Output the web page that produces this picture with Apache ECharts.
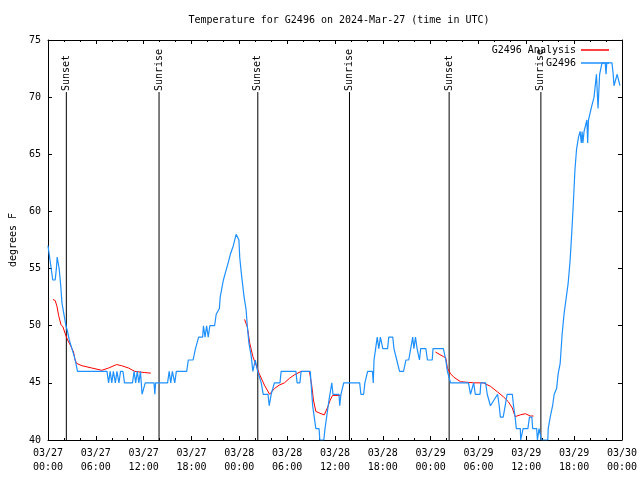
<!DOCTYPE html>
<html><head><meta charset="utf-8">
<script src="https://cdn.jsdelivr.net/npm/echarts@6/dist/echarts.min.js"></script>
<style>html,body{margin:0;padding:0;background:#fff}#c{width:640px;height:480px}</style>
</head><body><div id="c"></div>
<script>
// Hours since 2024-03-27 00:00 UTC
var xTickLabels = ['03/27\n00:00','03/27\n06:00','03/27\n12:00','03/27\n18:00','03/28\n00:00','03/28\n06:00','03/28\n12:00','03/28\n18:00','03/29\n00:00','03/29\n06:00','03/29\n12:00','03/29\n18:00','03/30\n00:00'];

var obsTimes = [0,0.2,0.4,0.6,0.9,1.05,1.15,1.3,1.4,1.6,1.75,2.0,2.25,2.45,2.65,3.0,3.3,3.5,3.7,7.4,7.6,7.8,8.0,8.2,8.45,8.65,8.9,9.1,9.4,9.6,10.6,10.8,11.0,11.2,11.4,11.6,11.8,12.0,12.2,13.3,13.4,13.5,15.0,15.2,15.4,15.6,15.9,16.1,17.4,17.6,18.2,18.5,18.9,19.4,19.5,19.7,19.9,20.1,20.3,20.9,21.1,21.5,21.6,22.0,22.4,22.6,22.9,23.25,23.6,23.85,23.95,24.05,24.25,24.45,24.6,24.85,25.0,25.2,25.5,25.7,26.0,26.1,26.3,26.75,27.0,27.6,27.75,28.0,28.4,29.1,29.25,31.1,31.25,31.6,31.75,32.9,33.0,33.2,33.6,34.0,34.1,34.6,34.75,35.25,35.6,35.75,36.5,36.6,36.75,37.1,39.1,39.25,39.6,39.75,40.1,40.7,40.8,40.9,41.1,41.3,41.5,41.7,42.0,42.6,42.75,43.25,43.4,43.75,44.1,44.6,44.9,45.25,45.5,45.75,45.9,46.1,46.3,46.6,46.75,47.4,47.6,48.2,48.3,49.6,49.9,50.1,50.5,52.75,53.0,53.25,53.4,53.6,54.2,54.3,54.9,55.1,55.5,55.75,56.4,56.6,56.75,57.1,57.6,58.25,58.4,58.6,58.75,59.25,59.3,59.5,59.6,60.2,60.4,60.7,60.8,61.3,61.4,61.6,61.85,61.9,62.7,62.75,63.0,63.3,63.5,63.8,64.0,64.25,64.5,64.75,65.25,65.5,65.7,65.9,66.1,66.3,66.55,66.75,66.9,67.0,67.1,67.25,67.6,67.7,67.8,68.2,68.5,68.8,69.0,69.2,69.5,69.9,70.0,70.1,70.75,70.9,71.0,71.4,71.55,71.75];
var obsTemps = [57,56,55,54,54,55,56,56,55,53.5,52,51,50,49.5,48.8,48,47.3,46.7,46,46,45,46,45,46,45,46,45,46,46,45,45,46,45,46,45,46,44,44,45,45,44,45,45,46,45,46,45,46,46,47,47,48,49,49,50,49,50,49,50,50,51,51.5,52.5,54,55,55.5,56.3,57,58,58,57.5,56,54.6,53.4,52.5,51.4,50,48.5,47.3,46,47,47,46,45,44,44,43,44,45,45,46,46,45,45,46,46,45,43,41,41,40,40,41,43.5,45,44,44,43,44,45,45,44,44,45,46,46,45,47,48,49,48,49,48,48,49,49,48,47,46,46,47,47,48,49,48,49,48,47,48,48,47,47,48,48,47,46,45,45,44,44,45,44,44,45,45,44,43,43,44,43,42,42,44,44,43,42,41,41,40,40,41,41,42,42,41,41,40,41,41,40,40,41,42,43,44,44.5,45.8,46.7,49.3,51.1,53.7,55.75,58.1,60.7,63.6,65.4,66.5,67,66,67,66,67,68,66,68,69.2,70,72,69,72,73,73,72,73,73,72,71,72,72,71];

var anaTimes = [0.625,0.9,1.125,1.33,1.625,1.875,2.16,2.46,2.8,3.2,3.4,3.6,4.25,5.5,6.75,7.6,8.6,9.25,10.1,10.9,12.15,12.9,13.0,
  24.66,25.0,25.3,25.7,26.1,26.5,27.15,27.8,28.4,29.0,29.66,30.3,30.9,31.75,32.8,33.1,33.3,33.6,34.25,34.66,35.1,35.4,35.7,36.75,36.8,
  48.6,49.6,49.9,50.1,50.5,50.9,51.75,53.4,54.6,55.5,56.4,57.1,57.75,58.25,58.6,59.25,59.9,60.5,60.9];
var anaTemps = [52.3,52.2,51.7,50.9,50.1,49.9,49.3,48.75,48.3,47.7,47.0,46.7,46.5,46.3,46.1,46.3,46.6,46.5,46.3,46.0,45.9,45.85,null,
  50.55,49.9,48.5,47.3,46.56,45.8,44.8,44.0,44.5,44.8,45.0,45.4,45.7,46.0,46.0,44.7,43.5,42.5,42.3,42.2,42.9,43.5,43.9,43.9,null,
  47.7,47.3,47.2,46.3,45.8,45.5,45.1,45.0,45.0,44.7,44.2,43.8,43.35,42.8,42.04,42.2,42.3,42.1,42.1];

var eventTimes = [2.3,13.93,26.32,37.82,50.32,61.83];
var eventLabels = ['Sunset','Sunrise','Sunset','Sunrise','Sunset','Sunrise'];

var FONT = 'DejaVu Sans Mono';
var LINE_TOP = 70.45;

var obsData = obsTimes.map(function(t,i){return [t, obsTemps[i]];});
var anaData = anaTimes.map(function(t,i){return [t, anaTemps[i] === null ? '-' : anaTemps[i]];});
var evData = [];
eventTimes.forEach(function(t){ evData.push([t,40]); evData.push([t,LINE_TOP]); evData.push([t,'-']); });

function xAxisDef(pos, showLabels){
  return {
    type:'value', min:0, max:72, interval:6, position:pos,
    axisLine:{show:true, onZero:false, lineStyle:{color:'#000', width:1}},
    axisTick:{show:true, inside:true, length:4, lineStyle:{color:'#000'}},
    minorTick:{show:true, splitNumber:3, length:2, lineStyle:{color:'#000'}},
    splitLine:{show:false}, minorSplitLine:{show:false},
    axisLabel:{show:showLabels, color:'#000', fontFamily:FONT, fontSize:10, margin:6, lineHeight:14,
      formatter:function(v){ return xTickLabels[Math.round(v/6)]; }}
  };
}
function yAxisDef(pos, showLabels){
  var a = {
    type:'value', min:40, max:75, interval:5, position:pos,
    axisLine:{show:true, onZero:false, lineStyle:{color:'#000', width:1}},
    axisTick:{show:true, inside:true, length:4, lineStyle:{color:'#000'}},
    splitLine:{show:false},
    axisLabel:{show:showLabels, color:'#000', fontFamily:FONT, fontSize:10, margin:7}
  };
  if (showLabels) {
    a.name = 'degrees F'; a.nameLocation = 'middle'; a.nameGap = 30;
    a.nameTextStyle = {color:'#000', fontFamily:FONT, fontSize:10};
  }
  return a;
}

var chart = echarts.init(document.getElementById('c'), null, {renderer:'canvas'});
var legendBase = {orient:'vertical', align:'right', icon:'rect', itemWidth:28, itemHeight:1.5, padding:0, itemGap:0,
  textStyle:{color:'#000', fontFamily:FONT, fontSize:10}, selectedMode:false};
chart.setOption({
  animation:false,
  backgroundColor:'#fff',
  title:{text:'Temperature for G2496 on 2024-Mar-27 (time in UTC)', left:334, textAlign:'center', top:10,
    textStyle:{color:'#000', fontFamily:FONT, fontSize:10, fontWeight:'normal'}},
  legend:[
    Object.assign({}, legendBase, {data:['G2496 Analysis'], right:31, top:45}),
    Object.assign({}, legendBase, {data:['G2496'], right:31, top:58})
  ],
  grid:{left:46, right:18, top:40, bottom:40},
  xAxis:[xAxisDef('bottom', true), xAxisDef('top', false)],
  yAxis:[yAxisDef('left', true), yAxisDef('right', false)],
  series:[
    {name:'events', type:'line', data:evData, showSymbol:false, silent:true, connectNulls:false,
      lineStyle:{color:'#000', width:1}, itemStyle:{color:'#000'}},
    {name:'G2496 Analysis', type:'line', data:anaData, showSymbol:false, connectNulls:false,
      lineStyle:{color:'#ff0000', width:1}, itemStyle:{color:'#ff0000'}},
    {name:'G2496', type:'line', data:obsData, showSymbol:false,
      lineStyle:{color:'#1e90ff', width:1.2}, itemStyle:{color:'#1e90ff'}}
  ]
});

var gfx = eventTimes.map(function(t,i){
  var p = chart.convertToPixel({xAxisIndex:0, yAxisIndex:0}, [t, LINE_TOP]);
  return {type:'text', x:p[0], y:p[1]-1, rotation:Math.PI/2, silent:true,
    style:{text:eventLabels[i], fill:'#000', font:'10px "' + FONT + '"', align:'left', verticalAlign:'middle'}};
});
chart.setOption({graphic:gfx});
</script></body></html>
